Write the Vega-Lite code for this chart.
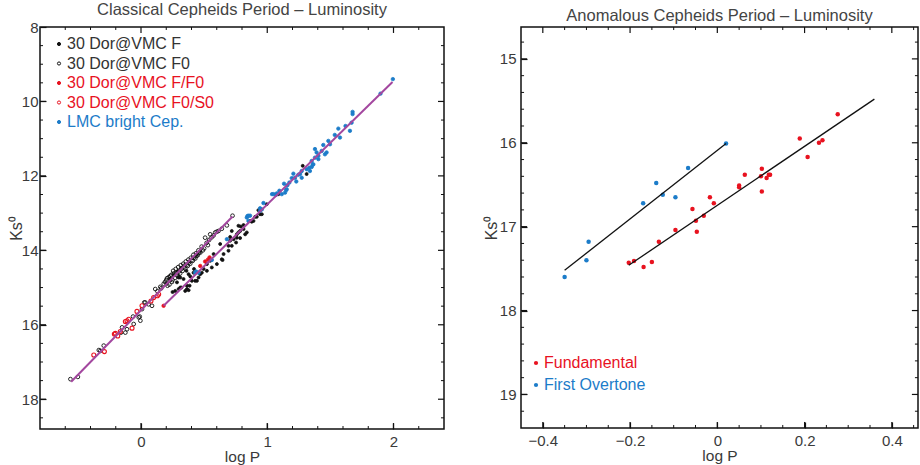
{
  "$schema": "https://vega.github.io/schema/vega-lite/v6.json",
  "background": "white",
  "padding": {"left": 7, "top": 0, "right": 0, "bottom": 0},
  "autosize": {"type": "pad"},
  "spacing": 36,
  "config": {
    "font": "Liberation Sans",
    "view": {"stroke": "#111111", "strokeWidth": 1.5, "fill": null},
    "axis": {"grid": false, "domain": false, "labelFontSize": 15, "labelColor": "#3a3a3a", "titleFontSize": 16, "titleFontWeight": "normal", "titleColor": "#3a3a3a", "format": "~g"},
    "title": {"fontSize": 16.5, "fontWeight": "normal", "color": "#444", "offset": 2}
  },
  "datasets": {
    "classical": [
      {"logP": -0.559, "Ks": 17.46, "series": "30 Dor@VMC F0"}, {"logP": -0.5, "Ks": 17.4, "series": "30 Dor@VMC F0"}, {"logP": -0.334, "Ks": 16.68, "series": "30 Dor@VMC F0"}, {"logP": -0.322, "Ks": 16.7, "series": "30 Dor@VMC F0"}, {"logP": -0.295, "Ks": 16.56, "series": "30 Dor@VMC F0"}, {"logP": -0.158, "Ks": 16.21, "series": "30 Dor@VMC F0"}, {"logP": -0.15, "Ks": 16.07, "series": "30 Dor@VMC F0"}, {"logP": -0.124, "Ks": 16.21, "series": "30 Dor@VMC F0"}, {"logP": -0.111, "Ks": 16.12, "series": "30 Dor@VMC F0"}, {"logP": -0.063, "Ks": 15.78, "series": "30 Dor@VMC F0"}, {"logP": -0.058, "Ks": 15.98, "series": "30 Dor@VMC F0"}, {"logP": -0.018, "Ks": 15.8, "series": "30 Dor@VMC F0"}, {"logP": -0.01, "Ks": 15.78, "series": "30 Dor@VMC F0"}, {"logP": -0.005, "Ks": 15.89, "series": "30 Dor@VMC F0"}, {"logP": 0.008, "Ks": 15.58, "series": "30 Dor@VMC F0"}, {"logP": 0.026, "Ks": 15.4, "series": "30 Dor@VMC F0"}, {"logP": 0.034, "Ks": 15.4, "series": "30 Dor@VMC F0"}, {"logP": 0.06, "Ks": 15.45, "series": "30 Dor@VMC F0"}, {"logP": 0.087, "Ks": 15.49, "series": "30 Dor@VMC F0"}, {"logP": 0.113, "Ks": 15.04, "series": "30 Dor@VMC F0"}, {"logP": 0.13, "Ks": 15.1, "series": "30 Dor@VMC F0"}, {"logP": 0.153, "Ks": 14.98, "series": "30 Dor@VMC F0"}, {"logP": 0.16, "Ks": 15.02, "series": "30 Dor@VMC F0"}, {"logP": 0.18, "Ks": 14.9, "series": "30 Dor@VMC F0"}, {"logP": 0.19, "Ks": 14.85, "series": "30 Dor@VMC F0"}, {"logP": 0.2, "Ks": 14.8, "series": "30 Dor@VMC F0"}, {"logP": 0.206, "Ks": 14.75, "series": "30 Dor@VMC F0"}, {"logP": 0.21, "Ks": 14.95, "series": "30 Dor@VMC F0"}, {"logP": 0.22, "Ks": 14.72, "series": "30 Dor@VMC F0"}, {"logP": 0.225, "Ks": 14.92, "series": "30 Dor@VMC F0"}, {"logP": 0.232, "Ks": 14.69, "series": "30 Dor@VMC F0"}, {"logP": 0.24, "Ks": 14.66, "series": "30 Dor@VMC F0"}, {"logP": 0.245, "Ks": 14.85, "series": "30 Dor@VMC F0"}, {"logP": 0.25, "Ks": 14.8, "series": "30 Dor@VMC F0"}, {"logP": 0.255, "Ks": 14.55, "series": "30 Dor@VMC F0"}, {"logP": 0.26, "Ks": 14.62, "series": "30 Dor@VMC F0"}, {"logP": 0.27, "Ks": 14.74, "series": "30 Dor@VMC F0"}, {"logP": 0.275, "Ks": 14.5, "series": "30 Dor@VMC F0"}, {"logP": 0.28, "Ks": 14.6, "series": "30 Dor@VMC F0"}, {"logP": 0.29, "Ks": 14.69, "series": "30 Dor@VMC F0"}, {"logP": 0.295, "Ks": 14.45, "series": "30 Dor@VMC F0"}, {"logP": 0.3, "Ks": 14.57, "series": "30 Dor@VMC F0"}, {"logP": 0.31, "Ks": 14.62, "series": "30 Dor@VMC F0"}, {"logP": 0.315, "Ks": 14.4, "series": "30 Dor@VMC F0"}, {"logP": 0.32, "Ks": 14.5, "series": "30 Dor@VMC F0"}, {"logP": 0.33, "Ks": 14.55, "series": "30 Dor@VMC F0"}, {"logP": 0.335, "Ks": 14.36, "series": "30 Dor@VMC F0"}, {"logP": 0.34, "Ks": 14.45, "series": "30 Dor@VMC F0"}, {"logP": 0.35, "Ks": 14.49, "series": "30 Dor@VMC F0"}, {"logP": 0.355, "Ks": 14.3, "series": "30 Dor@VMC F0"}, {"logP": 0.36, "Ks": 14.4, "series": "30 Dor@VMC F0"}, {"logP": 0.37, "Ks": 14.42, "series": "30 Dor@VMC F0"}, {"logP": 0.375, "Ks": 14.25, "series": "30 Dor@VMC F0"}, {"logP": 0.38, "Ks": 14.33, "series": "30 Dor@VMC F0"}, {"logP": 0.39, "Ks": 14.36, "series": "30 Dor@VMC F0"}, {"logP": 0.395, "Ks": 14.2, "series": "30 Dor@VMC F0"}, {"logP": 0.4, "Ks": 14.27, "series": "30 Dor@VMC F0"}, {"logP": 0.41, "Ks": 14.28, "series": "30 Dor@VMC F0"}, {"logP": 0.415, "Ks": 14.12, "series": "30 Dor@VMC F0"}, {"logP": 0.42, "Ks": 14.2, "series": "30 Dor@VMC F0"}, {"logP": 0.43, "Ks": 14.22, "series": "30 Dor@VMC F0"}, {"logP": 0.435, "Ks": 14.08, "series": "30 Dor@VMC F0"}, {"logP": 0.44, "Ks": 14.15, "series": "30 Dor@VMC F0"}, {"logP": 0.45, "Ks": 14.13, "series": "30 Dor@VMC F0"}, {"logP": 0.455, "Ks": 14.0, "series": "30 Dor@VMC F0"}, {"logP": 0.46, "Ks": 14.06, "series": "30 Dor@VMC F0"}, {"logP": 0.47, "Ks": 14.06, "series": "30 Dor@VMC F0"}, {"logP": 0.48, "Ks": 13.9, "series": "30 Dor@VMC F0"}, {"logP": 0.49, "Ks": 14.0, "series": "30 Dor@VMC F0"}, {"logP": 0.5, "Ks": 13.95, "series": "30 Dor@VMC F0"}, {"logP": 0.508, "Ks": 13.66, "series": "30 Dor@VMC F0"}, {"logP": 0.52, "Ks": 13.8, "series": "30 Dor@VMC F0"}, {"logP": 0.53, "Ks": 13.86, "series": "30 Dor@VMC F0"}, {"logP": 0.54, "Ks": 13.72, "series": "30 Dor@VMC F0"}, {"logP": 0.548, "Ks": 13.57, "series": "30 Dor@VMC F0"}, {"logP": 0.56, "Ks": 13.65, "series": "30 Dor@VMC F0"}, {"logP": 0.575, "Ks": 13.6, "series": "30 Dor@VMC F0"}, {"logP": 0.588, "Ks": 13.52, "series": "30 Dor@VMC F0"}, {"logP": 0.6, "Ks": 13.5, "series": "30 Dor@VMC F0"}, {"logP": 0.614, "Ks": 13.48, "series": "30 Dor@VMC F0"}, {"logP": 0.64, "Ks": 13.42, "series": "30 Dor@VMC F0"}, {"logP": 0.68, "Ks": 13.33, "series": "30 Dor@VMC F0"}, {"logP": 0.725, "Ks": 13.07, "series": "30 Dor@VMC F0"},
      {"logP": 0.232, "Ks": 14.8, "series": "30 Dor@VMC F"}, {"logP": 0.25, "Ks": 15.12, "series": "30 Dor@VMC F"}, {"logP": 0.271, "Ks": 15.09, "series": "30 Dor@VMC F"}, {"logP": 0.285, "Ks": 14.86, "series": "30 Dor@VMC F"}, {"logP": 0.298, "Ks": 14.73, "series": "30 Dor@VMC F"}, {"logP": 0.298, "Ks": 15.04, "series": "30 Dor@VMC F"}, {"logP": 0.311, "Ks": 15.0, "series": "30 Dor@VMC F"}, {"logP": 0.311, "Ks": 14.73, "series": "30 Dor@VMC F"}, {"logP": 0.32, "Ks": 15.0, "series": "30 Dor@VMC F"}, {"logP": 0.337, "Ks": 14.77, "series": "30 Dor@VMC F"}, {"logP": 0.35, "Ks": 15.09, "series": "30 Dor@VMC F"}, {"logP": 0.364, "Ks": 15.04, "series": "30 Dor@VMC F"}, {"logP": 0.364, "Ks": 14.95, "series": "30 Dor@VMC F"}, {"logP": 0.377, "Ks": 15.07, "series": "30 Dor@VMC F"}, {"logP": 0.377, "Ks": 14.64, "series": "30 Dor@VMC F"}, {"logP": 0.385, "Ks": 14.95, "series": "30 Dor@VMC F"}, {"logP": 0.39, "Ks": 14.7, "series": "30 Dor@VMC F"}, {"logP": 0.403, "Ks": 14.82, "series": "30 Dor@VMC F"}, {"logP": 0.416, "Ks": 14.6, "series": "30 Dor@VMC F"}, {"logP": 0.42, "Ks": 14.5, "series": "30 Dor@VMC F"}, {"logP": 0.429, "Ks": 14.82, "series": "30 Dor@VMC F"}, {"logP": 0.443, "Ks": 14.82, "series": "30 Dor@VMC F"}, {"logP": 0.456, "Ks": 14.73, "series": "30 Dor@VMC F"}, {"logP": 0.469, "Ks": 14.64, "series": "30 Dor@VMC F"}, {"logP": 0.482, "Ks": 14.6, "series": "30 Dor@VMC F"}, {"logP": 0.496, "Ks": 14.5, "series": "30 Dor@VMC F"}, {"logP": 0.522, "Ks": 14.55, "series": "30 Dor@VMC F"}, {"logP": 0.522, "Ks": 14.37, "series": "30 Dor@VMC F"}, {"logP": 0.548, "Ks": 14.28, "series": "30 Dor@VMC F"}, {"logP": 0.561, "Ks": 14.46, "series": "30 Dor@VMC F"}, {"logP": 0.575, "Ks": 14.1, "series": "30 Dor@VMC F"}, {"logP": 0.601, "Ks": 14.37, "series": "30 Dor@VMC F"}, {"logP": 0.627, "Ks": 13.83, "series": "30 Dor@VMC F"}, {"logP": 0.64, "Ks": 14.24, "series": "30 Dor@VMC F"}, {"logP": 0.646, "Ks": 14.26, "series": "30 Dor@VMC F"}, {"logP": 0.654, "Ks": 14.1, "series": "30 Dor@VMC F"}, {"logP": 0.693, "Ks": 14.01, "series": "30 Dor@VMC F"}, {"logP": 0.693, "Ks": 13.88, "series": "30 Dor@VMC F"}, {"logP": 0.706, "Ks": 13.64, "series": "30 Dor@VMC F"}, {"logP": 0.706, "Ks": 13.74, "series": "30 Dor@VMC F"}, {"logP": 0.719, "Ks": 13.88, "series": "30 Dor@VMC F"}, {"logP": 0.719, "Ks": 13.48, "series": "30 Dor@VMC F"}, {"logP": 0.733, "Ks": 13.7, "series": "30 Dor@VMC F"}, {"logP": 0.753, "Ks": 13.79, "series": "30 Dor@VMC F"}, {"logP": 0.759, "Ks": 13.57, "series": "30 Dor@VMC F"}, {"logP": 0.759, "Ks": 13.66, "series": "30 Dor@VMC F"}, {"logP": 0.772, "Ks": 13.52, "series": "30 Dor@VMC F"}, {"logP": 0.772, "Ks": 13.34, "series": "30 Dor@VMC F"}, {"logP": 0.785, "Ks": 13.67, "series": "30 Dor@VMC F"}, {"logP": 0.785, "Ks": 13.48, "series": "30 Dor@VMC F"}, {"logP": 0.79, "Ks": 13.36, "series": "30 Dor@VMC F"}, {"logP": 0.812, "Ks": 13.43, "series": "30 Dor@VMC F"}, {"logP": 0.812, "Ks": 13.32, "series": "30 Dor@VMC F"}, {"logP": 0.825, "Ks": 13.57, "series": "30 Dor@VMC F"}, {"logP": 0.838, "Ks": 13.52, "series": "30 Dor@VMC F"}, {"logP": 0.864, "Ks": 13.21, "series": "30 Dor@VMC F"}, {"logP": 0.877, "Ks": 13.23, "series": "30 Dor@VMC F"}, {"logP": 0.891, "Ks": 13.21, "series": "30 Dor@VMC F"}, {"logP": 0.904, "Ks": 13.1, "series": "30 Dor@VMC F"}, {"logP": 0.917, "Ks": 13.1, "series": "30 Dor@VMC F"}, {"logP": 0.93, "Ks": 12.92, "series": "30 Dor@VMC F"}, {"logP": 0.943, "Ks": 13.03, "series": "30 Dor@VMC F"}, {"logP": 0.957, "Ks": 13.03, "series": "30 Dor@VMC F"}, {"logP": 0.996, "Ks": 12.76, "series": "30 Dor@VMC F"}, {"logP": 1.088, "Ks": 12.49, "series": "30 Dor@VMC F"}, {"logP": 1.281, "Ks": 11.73, "series": "30 Dor@VMC F"}, {"logP": 1.312, "Ks": 11.95, "series": "30 Dor@VMC F"}, {"logP": 0.26, "Ks": 14.66, "series": "30 Dor@VMC F"}, {"logP": 0.29, "Ks": 14.56, "series": "30 Dor@VMC F"}, {"logP": 0.32, "Ks": 14.47, "series": "30 Dor@VMC F"}, {"logP": 0.35, "Ks": 14.38, "series": "30 Dor@VMC F"}, {"logP": 0.38, "Ks": 14.3, "series": "30 Dor@VMC F"}, {"logP": 0.41, "Ks": 14.2, "series": "30 Dor@VMC F"}, {"logP": 0.44, "Ks": 14.12, "series": "30 Dor@VMC F"}, {"logP": 0.23, "Ks": 14.76, "series": "30 Dor@VMC F"}, {"logP": 0.47, "Ks": 14.02, "series": "30 Dor@VMC F"}, {"logP": 0.2, "Ks": 14.9, "series": "30 Dor@VMC F"}, {"logP": 0.36, "Ks": 14.55, "series": "30 Dor@VMC F"}, {"logP": 0.3, "Ks": 14.7, "series": "30 Dor@VMC F"},
      {"logP": -0.374, "Ks": 16.81, "series": "30 Dor@VMC F0/S0"}, {"logP": -0.29, "Ks": 16.72, "series": "30 Dor@VMC F0/S0"}, {"logP": -0.211, "Ks": 16.25, "series": "30 Dor@VMC F0/S0"}, {"logP": -0.203, "Ks": 16.23, "series": "30 Dor@VMC F0/S0"}, {"logP": -0.184, "Ks": 16.3, "series": "30 Dor@VMC F0/S0"}, {"logP": -0.164, "Ks": 16.18, "series": "30 Dor@VMC F0/S0"}, {"logP": -0.124, "Ks": 15.91, "series": "30 Dor@VMC F0/S0"}, {"logP": -0.111, "Ks": 15.89, "series": "30 Dor@VMC F0/S0"}, {"logP": -0.097, "Ks": 15.85, "series": "30 Dor@VMC F0/S0"}, {"logP": -0.071, "Ks": 16.09, "series": "30 Dor@VMC F0/S0"}, {"logP": -0.032, "Ks": 15.64, "series": "30 Dor@VMC F0/S0"}, {"logP": 0.008, "Ks": 15.49, "series": "30 Dor@VMC F0/S0"}, {"logP": 0.079, "Ks": 15.36, "series": "30 Dor@VMC F0/S0"}, {"logP": 0.1, "Ks": 15.27, "series": "30 Dor@VMC F0/S0"}, {"logP": 0.13, "Ks": 15.22, "series": "30 Dor@VMC F0/S0"}, {"logP": 0.14, "Ks": 15.18, "series": "30 Dor@VMC F0/S0"},
      {"logP": 0.179, "Ks": 15.49, "series": "30 Dor@VMC F/F0"}, {"logP": 0.469, "Ks": 14.42, "series": "30 Dor@VMC F/F0"}, {"logP": 0.508, "Ks": 14.3, "series": "30 Dor@VMC F/F0"}, {"logP": 0.53, "Ks": 14.25, "series": "30 Dor@VMC F/F0"}, {"logP": 0.543, "Ks": 14.19, "series": "30 Dor@VMC F/F0"},
      {"logP": 0.429, "Ks": 14.6, "series": "LMC bright Cep."}, {"logP": 0.437, "Ks": 14.57, "series": "LMC bright Cep."}, {"logP": 0.456, "Ks": 14.6, "series": "LMC bright Cep."}, {"logP": 0.561, "Ks": 14.26, "series": "LMC bright Cep."}, {"logP": 0.68, "Ks": 13.7, "series": "LMC bright Cep."}, {"logP": 0.838, "Ks": 13.12, "series": "LMC bright Cep."}, {"logP": 0.843, "Ks": 13.08, "series": "LMC bright Cep."}, {"logP": 0.851, "Ks": 13.07, "series": "LMC bright Cep."}, {"logP": 0.851, "Ks": 13.21, "series": "LMC bright Cep."}, {"logP": 0.864, "Ks": 13.07, "series": "LMC bright Cep."}, {"logP": 0.943, "Ks": 12.87, "series": "LMC bright Cep."}, {"logP": 0.943, "Ks": 12.94, "series": "LMC bright Cep."}, {"logP": 0.957, "Ks": 12.9, "series": "LMC bright Cep."}, {"logP": 0.97, "Ks": 12.73, "series": "LMC bright Cep."}, {"logP": 1.038, "Ks": 12.49, "series": "LMC bright Cep."}, {"logP": 1.05, "Ks": 12.49, "series": "LMC bright Cep."}, {"logP": 1.07, "Ks": 12.51, "series": "LMC bright Cep."}, {"logP": 1.075, "Ks": 12.47, "series": "LMC bright Cep."}, {"logP": 1.096, "Ks": 12.4, "series": "LMC bright Cep."}, {"logP": 1.115, "Ks": 12.49, "series": "LMC bright Cep."}, {"logP": 1.133, "Ks": 12.21, "series": "LMC bright Cep."}, {"logP": 1.141, "Ks": 12.45, "series": "LMC bright Cep."}, {"logP": 1.15, "Ks": 12.38, "series": "LMC bright Cep."}, {"logP": 1.154, "Ks": 12.36, "series": "LMC bright Cep."}, {"logP": 1.16, "Ks": 12.25, "series": "LMC bright Cep."}, {"logP": 1.175, "Ks": 12.18, "series": "LMC bright Cep."}, {"logP": 1.194, "Ks": 12.06, "series": "LMC bright Cep."}, {"logP": 1.207, "Ks": 11.94, "series": "LMC bright Cep."}, {"logP": 1.22, "Ks": 12.05, "series": "LMC bright Cep."}, {"logP": 1.23, "Ks": 12.15, "series": "LMC bright Cep."}, {"logP": 1.246, "Ks": 11.97, "series": "LMC bright Cep."}, {"logP": 1.26, "Ks": 11.95, "series": "LMC bright Cep."}, {"logP": 1.273, "Ks": 11.87, "series": "LMC bright Cep."}, {"logP": 1.273, "Ks": 12.05, "series": "LMC bright Cep."}, {"logP": 1.312, "Ks": 11.82, "series": "LMC bright Cep."}, {"logP": 1.333, "Ks": 11.78, "series": "LMC bright Cep."}, {"logP": 1.338, "Ks": 11.87, "series": "LMC bright Cep."}, {"logP": 1.352, "Ks": 11.6, "series": "LMC bright Cep."}, {"logP": 1.352, "Ks": 11.76, "series": "LMC bright Cep."}, {"logP": 1.36, "Ks": 11.7, "series": "LMC bright Cep."}, {"logP": 1.365, "Ks": 11.69, "series": "LMC bright Cep."}, {"logP": 1.378, "Ks": 11.28, "series": "LMC bright Cep."}, {"logP": 1.378, "Ks": 11.51, "series": "LMC bright Cep."}, {"logP": 1.391, "Ks": 11.37, "series": "LMC bright Cep."}, {"logP": 1.405, "Ks": 11.46, "series": "LMC bright Cep."}, {"logP": 1.405, "Ks": 11.55, "series": "LMC bright Cep."}, {"logP": 1.431, "Ks": 11.33, "series": "LMC bright Cep."}, {"logP": 1.444, "Ks": 11.17, "series": "LMC bright Cep."}, {"logP": 1.457, "Ks": 11.42, "series": "LMC bright Cep."}, {"logP": 1.47, "Ks": 11.37, "series": "LMC bright Cep."}, {"logP": 1.484, "Ks": 11.06, "series": "LMC bright Cep."}, {"logP": 1.497, "Ks": 11.15, "series": "LMC bright Cep."}, {"logP": 1.535, "Ks": 10.9, "series": "LMC bright Cep."}, {"logP": 1.576, "Ks": 10.97, "series": "LMC bright Cep."}, {"logP": 1.563, "Ks": 10.73, "series": "LMC bright Cep."}, {"logP": 1.62, "Ks": 10.66, "series": "LMC bright Cep."}, {"logP": 1.655, "Ks": 10.79, "series": "LMC bright Cep."}, {"logP": 1.668, "Ks": 10.57, "series": "LMC bright Cep."}, {"logP": 1.676, "Ks": 10.28, "series": "LMC bright Cep."}, {"logP": 1.676, "Ks": 10.34, "series": "LMC bright Cep."}, {"logP": 1.897, "Ks": 9.79, "series": "LMC bright Cep."}, {"logP": 1.995, "Ks": 9.4, "series": "LMC bright Cep."}
    ],
    "classicalFits": [
      {"logP": -0.553, "Ks": 17.53, "fit": "F0"}, {"logP": 0.725, "Ks": 13.09, "fit": "F0"},
      {"logP": 0.179, "Ks": 15.49, "fit": "F"}, {"logP": 1.992, "Ks": 9.48, "fit": "F"}
    ],
    "anomalous": [
      {"logP": 0.276, "Ks": 15.66, "mode": "Fundamental"}, {"logP": 0.189, "Ks": 15.95, "mode": "Fundamental"}, {"logP": 0.233, "Ks": 16.0, "mode": "Fundamental"}, {"logP": 0.241, "Ks": 15.97, "mode": "Fundamental"}, {"logP": 0.207, "Ks": 16.17, "mode": "Fundamental"}, {"logP": 0.102, "Ks": 16.31, "mode": "Fundamental"}, {"logP": 0.063, "Ks": 16.38, "mode": "Fundamental"}, {"logP": 0.1, "Ks": 16.4, "mode": "Fundamental"}, {"logP": 0.118, "Ks": 16.38, "mode": "Fundamental"}, {"logP": 0.121, "Ks": 16.38, "mode": "Fundamental"}, {"logP": 0.113, "Ks": 16.42, "mode": "Fundamental"}, {"logP": 0.05, "Ks": 16.51, "mode": "Fundamental"}, {"logP": 0.05, "Ks": 16.53, "mode": "Fundamental"}, {"logP": 0.102, "Ks": 16.58, "mode": "Fundamental"}, {"logP": -0.017, "Ks": 16.65, "mode": "Fundamental"}, {"logP": -0.008, "Ks": 16.72, "mode": "Fundamental"}, {"logP": -0.057, "Ks": 16.79, "mode": "Fundamental"}, {"logP": -0.049, "Ks": 16.93, "mode": "Fundamental"}, {"logP": -0.031, "Ks": 16.87, "mode": "Fundamental"}, {"logP": -0.096, "Ks": 17.04, "mode": "Fundamental"}, {"logP": -0.047, "Ks": 17.06, "mode": "Fundamental"}, {"logP": -0.134, "Ks": 17.18, "mode": "Fundamental"}, {"logP": -0.203, "Ks": 17.43, "mode": "Fundamental"}, {"logP": -0.191, "Ks": 17.41, "mode": "Fundamental"}, {"logP": -0.169, "Ks": 17.48, "mode": "Fundamental"}, {"logP": -0.15, "Ks": 17.42, "mode": "Fundamental"},
      {"logP": 0.02, "Ks": 16.01, "mode": "First Overtone"}, {"logP": -0.067, "Ks": 16.3, "mode": "First Overtone"}, {"logP": -0.14, "Ks": 16.48, "mode": "First Overtone"}, {"logP": -0.125, "Ks": 16.62, "mode": "First Overtone"}, {"logP": -0.096, "Ks": 16.65, "mode": "First Overtone"}, {"logP": -0.17, "Ks": 16.72, "mode": "First Overtone"}, {"logP": -0.295, "Ks": 17.18, "mode": "First Overtone"}, {"logP": -0.3, "Ks": 17.4, "mode": "First Overtone"}, {"logP": -0.35, "Ks": 17.6, "mode": "First Overtone"}
    ],
    "anomalousFits": [
      {"logP": -0.203, "Ks": 17.46, "mode": "Fundamental"}, {"logP": 0.36, "Ks": 15.48, "mode": "Fundamental"},
      {"logP": -0.35, "Ks": 17.52, "mode": "First Overtone"}, {"logP": 0.02, "Ks": 16.01, "mode": "First Overtone"}
    ],
    "leftTicksX": [
      {"v": 0, "kind": "major"}, {"v": 1, "kind": "major"}, {"v": 2, "kind": "major"},
      {"v": -0.6, "kind": "minor"}, {"v": -0.4, "kind": "minor"}, {"v": -0.2, "kind": "minor"}, {"v": 0.2, "kind": "minor"}, {"v": 0.4, "kind": "minor"}, {"v": 0.6, "kind": "minor"}, {"v": 0.8, "kind": "minor"}, {"v": 1.2, "kind": "minor"}, {"v": 1.4, "kind": "minor"}, {"v": 1.6, "kind": "minor"}, {"v": 1.8, "kind": "minor"}, {"v": 2.2, "kind": "minor"}
    ],
    "leftTicksY": [
      {"v": 10, "kind": "major"}, {"v": 12, "kind": "major"}, {"v": 14, "kind": "major"}, {"v": 16, "kind": "major"}, {"v": 18, "kind": "major"},
      {"v": 8.5, "kind": "minor"}, {"v": 9, "kind": "minor"}, {"v": 9.5, "kind": "minor"}, {"v": 10.5, "kind": "minor"}, {"v": 11, "kind": "minor"}, {"v": 11.5, "kind": "minor"}, {"v": 12.5, "kind": "minor"}, {"v": 13, "kind": "minor"}, {"v": 13.5, "kind": "minor"}, {"v": 14.5, "kind": "minor"}, {"v": 15, "kind": "minor"}, {"v": 15.5, "kind": "minor"}, {"v": 16.5, "kind": "minor"}, {"v": 17, "kind": "minor"}, {"v": 17.5, "kind": "minor"}, {"v": 18.5, "kind": "minor"}
    ],
    "rightTicksX": [
      {"v": -0.4, "kind": "major"}, {"v": -0.2, "kind": "major"}, {"v": 0, "kind": "major"}, {"v": 0.2, "kind": "major"}, {"v": 0.4, "kind": "major"},
      {"v": -0.35, "kind": "minor"}, {"v": -0.3, "kind": "minor"}, {"v": -0.25, "kind": "minor"}, {"v": -0.15, "kind": "minor"}, {"v": -0.1, "kind": "minor"}, {"v": -0.05, "kind": "minor"}, {"v": 0.05, "kind": "minor"}, {"v": 0.1, "kind": "minor"}, {"v": 0.15, "kind": "minor"}, {"v": 0.25, "kind": "minor"}, {"v": 0.3, "kind": "minor"}, {"v": 0.35, "kind": "minor"}, {"v": 0.45, "kind": "minor"}
    ],
    "rightTicksY": [
      {"v": 15, "kind": "major"}, {"v": 16, "kind": "major"}, {"v": 17, "kind": "major"}, {"v": 18, "kind": "major"}, {"v": 19, "kind": "major"},
      {"v": 14.8, "kind": "minor"}, {"v": 15.2, "kind": "minor"}, {"v": 15.4, "kind": "minor"}, {"v": 15.6, "kind": "minor"}, {"v": 15.8, "kind": "minor"}, {"v": 16.2, "kind": "minor"}, {"v": 16.4, "kind": "minor"}, {"v": 16.6, "kind": "minor"}, {"v": 16.8, "kind": "minor"}, {"v": 17.2, "kind": "minor"}, {"v": 17.4, "kind": "minor"}, {"v": 17.6, "kind": "minor"}, {"v": 17.8, "kind": "minor"}, {"v": 18.2, "kind": "minor"}, {"v": 18.4, "kind": "minor"}, {"v": 18.6, "kind": "minor"}, {"v": 18.8, "kind": "minor"}, {"v": 19.2, "kind": "minor"}
    ]
  },
  "hconcat": [
    {
      "width": 404,
      "height": 402,
      "title": "Classical Cepheids Period – Luminosity",
      "resolve": {"axis": {"x": "independent", "y": "independent"}},
      "layer": [
        {
          "data": {"name": "classical"},
          "transform": [{"filter": "datum.series == '30 Dor@VMC F0'"}],
          "mark": {"type": "point", "shape": "circle", "size": 14, "strokeWidth": 0.9, "opacity": 1},
          "encoding": {
            "x": {"field": "logP", "type": "quantitative", "scale": {"domain": [-0.8, 2.4], "nice": false, "zero": false}, "axis": null},
            "y": {"field": "Ks", "type": "quantitative", "scale": {"domain": [8, 18.8], "reverse": true, "nice": false, "zero": false}, "axis": null},
            "fill": {"field": "series", "type": "nominal", "scale": {"domain": ["30 Dor@VMC F", "30 Dor@VMC F0", "30 Dor@VMC F/F0", "30 Dor@VMC F0/S0", "LMC bright Cep."], "range": ["#111111", "transparent", "#e8121f", "transparent", "#1c7cc9"]}, "legend": {"title": null, "orient": "none", "legendX": 11, "legendY": 9, "padding": 0, "symbolSize": 10, "symbolStrokeWidth": 1, "labelFontSize": 16, "labelOffset": 0, "rowPadding": 3.5, "labelColor": {"expr": "(datum.label == '30 Dor@VMC F/F0' || datum.label == '30 Dor@VMC F0/S0') ? '#e8121f' : (datum.label == 'LMC bright Cep.' ? '#1c7cc9' : '#333333')"}}},
            "stroke": {"field": "series", "type": "nominal", "scale": {"domain": ["30 Dor@VMC F", "30 Dor@VMC F0", "30 Dor@VMC F/F0", "30 Dor@VMC F0/S0", "LMC bright Cep."], "range": ["#111111", "#111111", "#e8121f", "#e8121f", "#1c7cc9"]}, "legend": {"title": null, "orient": "none", "legendX": 11, "legendY": 9, "padding": 0, "symbolSize": 10, "symbolStrokeWidth": 1, "labelFontSize": 16, "labelOffset": 0, "rowPadding": 3.5, "labelColor": {"expr": "(datum.label == '30 Dor@VMC F/F0' || datum.label == '30 Dor@VMC F0/S0') ? '#e8121f' : (datum.label == 'LMC bright Cep.' ? '#1c7cc9' : '#333333')"}}}
          }
        },
        {
          "data": {"name": "classical"},
          "transform": [{"filter": "datum.series == '30 Dor@VMC F'"}],
          "mark": {"type": "point", "shape": "circle", "size": 9, "strokeWidth": 0.8, "opacity": 1},
          "encoding": {
            "x": {"field": "logP", "type": "quantitative", "scale": {"domain": [-0.8, 2.4], "nice": false, "zero": false}, "axis": null},
            "y": {"field": "Ks", "type": "quantitative", "scale": {"domain": [8, 18.8], "reverse": true, "nice": false, "zero": false}, "axis": null},
            "fill": {"field": "series", "type": "nominal"},
            "stroke": {"field": "series", "type": "nominal"}
          }
        },
        {
          "data": {"name": "classical"},
          "transform": [{"filter": "datum.series == '30 Dor@VMC F0/S0'"}],
          "mark": {"type": "point", "shape": "circle", "size": 16, "strokeWidth": 1.1, "opacity": 1},
          "encoding": {
            "x": {"field": "logP", "type": "quantitative", "scale": {"domain": [-0.8, 2.4], "nice": false, "zero": false}, "axis": null},
            "y": {"field": "Ks", "type": "quantitative", "scale": {"domain": [8, 18.8], "reverse": true, "nice": false, "zero": false}, "axis": null},
            "fill": {"field": "series", "type": "nominal"},
            "stroke": {"field": "series", "type": "nominal"}
          }
        },
        {
          "data": {"name": "classical"},
          "transform": [{"filter": "datum.series == '30 Dor@VMC F/F0'"}],
          "mark": {"type": "point", "shape": "circle", "size": 12, "strokeWidth": 0.8, "opacity": 1},
          "encoding": {
            "x": {"field": "logP", "type": "quantitative", "scale": {"domain": [-0.8, 2.4], "nice": false, "zero": false}, "axis": null},
            "y": {"field": "Ks", "type": "quantitative", "scale": {"domain": [8, 18.8], "reverse": true, "nice": false, "zero": false}, "axis": null},
            "fill": {"field": "series", "type": "nominal"},
            "stroke": {"field": "series", "type": "nominal"}
          }
        },
        {
          "data": {"name": "classical"},
          "transform": [{"filter": "datum.series == 'LMC bright Cep.'"}],
          "mark": {"type": "point", "shape": "circle", "size": 12, "strokeWidth": 0.8, "opacity": 1},
          "encoding": {
            "x": {"field": "logP", "type": "quantitative", "scale": {"domain": [-0.8, 2.4], "nice": false, "zero": false}, "axis": null},
            "y": {"field": "Ks", "type": "quantitative", "scale": {"domain": [8, 18.8], "reverse": true, "nice": false, "zero": false}, "axis": null},
            "fill": {"field": "series", "type": "nominal"},
            "stroke": {"field": "series", "type": "nominal"}
          }
        },
        {
          "data": {"name": "classicalFits"},
          "mark": {"type": "line", "color": "#a3479f", "strokeWidth": 2},
          "encoding": {
            "x": {"field": "logP", "type": "quantitative", "scale": {"domain": [-0.8, 2.4], "nice": false, "zero": false}, "axis": {"orient": "bottom", "values": [0, 1, 2], "offset": -6, "tickSize": 6, "tickWidth": 1.2, "tickColor": "#111111", "labelPadding": 5, "title": "log P", "titlePadding": 0, "titleFontSize": 15.5}},
            "y": {"field": "Ks", "type": "quantitative", "scale": {"domain": [8, 18.8], "reverse": true, "nice": false, "zero": false}, "axis": {"orient": "left", "values": [8, 10, 12, 14, 16, 18], "offset": -6, "tickSize": 6, "tickWidth": 1.2, "tickColor": "#111111", "labelPadding": 2, "title": "Ks⁰", "titlePadding": -3}},
            "detail": {"field": "fit", "type": "nominal"}
          }
        },
        {
          "data": {"name": "leftTicksX"},
          "transform": [{"filter": "datum.kind == 'major'"}],
          "mark": {"type": "rule", "color": "#111111", "strokeWidth": 1.2},
          "encoding": {
            "x": {"field": "v", "type": "quantitative", "scale": {"domain": [-0.8, 2.4], "nice": false, "zero": false}, "axis": null},
            "y": {"datum": 18.8, "type": "quantitative", "scale": {"domain": [8, 18.8], "reverse": true, "nice": false, "zero": false}, "axis": null},
            "y2": {"datum": 18.64}
          }
        },
        {
          "data": {"name": "leftTicksX"},
          "transform": [{"filter": "datum.kind == 'major'"}],
          "mark": {"type": "rule", "color": "#111111", "strokeWidth": 1.2},
          "encoding": {
            "x": {"field": "v", "type": "quantitative", "scale": {"domain": [-0.8, 2.4], "nice": false, "zero": false}, "axis": null},
            "y": {"datum": 8, "type": "quantitative", "scale": {"domain": [8, 18.8], "reverse": true, "nice": false, "zero": false}, "axis": null},
            "y2": {"datum": 8.16}
          }
        },
        {
          "data": {"name": "leftTicksX"},
          "transform": [{"filter": "datum.kind == 'minor'"}],
          "mark": {"type": "rule", "color": "#111111", "strokeWidth": 1},
          "encoding": {
            "x": {"field": "v", "type": "quantitative", "scale": {"domain": [-0.8, 2.4], "nice": false, "zero": false}, "axis": null},
            "y": {"datum": 18.8, "type": "quantitative", "scale": {"domain": [8, 18.8], "reverse": true, "nice": false, "zero": false}, "axis": null},
            "y2": {"datum": 18.72}
          }
        },
        {
          "data": {"name": "leftTicksX"},
          "transform": [{"filter": "datum.kind == 'minor'"}],
          "mark": {"type": "rule", "color": "#111111", "strokeWidth": 1},
          "encoding": {
            "x": {"field": "v", "type": "quantitative", "scale": {"domain": [-0.8, 2.4], "nice": false, "zero": false}, "axis": null},
            "y": {"datum": 8, "type": "quantitative", "scale": {"domain": [8, 18.8], "reverse": true, "nice": false, "zero": false}, "axis": null},
            "y2": {"datum": 8.08}
          }
        },
        {
          "data": {"name": "leftTicksY"},
          "transform": [{"filter": "datum.kind == 'major'"}],
          "mark": {"type": "rule", "color": "#111111", "strokeWidth": 1.2},
          "encoding": {
            "y": {"field": "v", "type": "quantitative", "scale": {"domain": [8, 18.8], "reverse": true, "nice": false, "zero": false}, "axis": null},
            "x": {"datum": -0.8, "type": "quantitative", "scale": {"domain": [-0.8, 2.4], "nice": false, "zero": false}, "axis": null},
            "x2": {"datum": -0.7525}
          }
        },
        {
          "data": {"name": "leftTicksY"},
          "transform": [{"filter": "datum.kind == 'major'"}],
          "mark": {"type": "rule", "color": "#111111", "strokeWidth": 1.2},
          "encoding": {
            "y": {"field": "v", "type": "quantitative", "scale": {"domain": [8, 18.8], "reverse": true, "nice": false, "zero": false}, "axis": null},
            "x": {"datum": 2.4, "type": "quantitative", "scale": {"domain": [-0.8, 2.4], "nice": false, "zero": false}, "axis": null},
            "x2": {"datum": 2.3525}
          }
        },
        {
          "data": {"name": "leftTicksY"},
          "transform": [{"filter": "datum.kind == 'minor'"}],
          "mark": {"type": "rule", "color": "#111111", "strokeWidth": 1},
          "encoding": {
            "y": {"field": "v", "type": "quantitative", "scale": {"domain": [8, 18.8], "reverse": true, "nice": false, "zero": false}, "axis": null},
            "x": {"datum": -0.8, "type": "quantitative", "scale": {"domain": [-0.8, 2.4], "nice": false, "zero": false}, "axis": null},
            "x2": {"datum": -0.776}
          }
        },
        {
          "data": {"name": "leftTicksY"},
          "transform": [{"filter": "datum.kind == 'minor'"}],
          "mark": {"type": "rule", "color": "#111111", "strokeWidth": 1},
          "encoding": {
            "y": {"field": "v", "type": "quantitative", "scale": {"domain": [8, 18.8], "reverse": true, "nice": false, "zero": false}, "axis": null},
            "x": {"datum": 2.4, "type": "quantitative", "scale": {"domain": [-0.8, 2.4], "nice": false, "zero": false}, "axis": null},
            "x2": {"datum": 2.376}
          }
        }
      ]
    },
    {
      "width": 397,
      "height": 401,
      "title": "Anomalous Cepheids Period – Luminosity",
      "resolve": {"axis": {"x": "independent", "y": "independent"}},
      "layer": [
        {
          "data": {"name": "anomalous"},
          "transform": [{"filter": "datum.mode == 'Fundamental'"}],
          "mark": {"type": "circle", "size": 20, "opacity": 1},
          "encoding": {
            "x": {"field": "logP", "type": "quantitative", "scale": {"domain": [-0.45, 0.46], "nice": false, "zero": false}, "axis": null},
            "y": {"field": "Ks", "type": "quantitative", "scale": {"domain": [14.62, 19.4], "reverse": true, "nice": false, "zero": false}, "axis": null},
            "color": {"field": "mode", "type": "nominal", "scale": {"domain": ["Fundamental", "First Overtone"], "range": ["#e8121f", "#1c7cc9"]}, "legend": {"title": null, "orient": "none", "legendX": 488, "legendY": 328, "padding": 0, "symbolSize": 18, "symbolType": "circle", "labelFontSize": 16, "labelOffset": 0, "rowPadding": 6, "labelColor": {"expr": "datum.label == 'Fundamental' ? '#e8121f' : '#1c7cc9'"}}}
          }
        },
        {
          "data": {"name": "anomalous"},
          "transform": [{"filter": "datum.mode == 'First Overtone'"}],
          "mark": {"type": "circle", "size": 20, "opacity": 1},
          "encoding": {
            "x": {"field": "logP", "type": "quantitative", "scale": {"domain": [-0.45, 0.46], "nice": false, "zero": false}, "axis": null},
            "y": {"field": "Ks", "type": "quantitative", "scale": {"domain": [14.62, 19.4], "reverse": true, "nice": false, "zero": false}, "axis": null},
            "color": {"field": "mode", "type": "nominal"}
          }
        },
        {
          "data": {"name": "anomalousFits"},
          "transform": [{"filter": "datum.mode == 'Fundamental'"}],
          "mark": {"type": "line", "color": "#111111", "strokeWidth": 1.3},
          "encoding": {
            "x": {"field": "logP", "type": "quantitative", "scale": {"domain": [-0.45, 0.46], "nice": false, "zero": false}, "axis": {"orient": "bottom", "values": [-0.4, -0.2, 0, 0.2, 0.4], "offset": -6, "tickSize": 6, "tickWidth": 1.2, "tickColor": "#111111", "labelPadding": 5, "title": "log P", "titlePadding": 0, "titleFontSize": 15.5}},
            "y": {"field": "Ks", "type": "quantitative", "scale": {"domain": [14.62, 19.4], "reverse": true, "nice": false, "zero": false}, "axis": {"orient": "left", "values": [15, 16, 17, 18, 19], "offset": -6, "tickSize": 6, "tickWidth": 1.2, "tickColor": "#111111", "labelPadding": 5, "title": "Ks⁰", "titlePadding": 0}}
          }
        },
        {
          "data": {"name": "anomalousFits"},
          "transform": [{"filter": "datum.mode == 'First Overtone'"}],
          "mark": {"type": "line", "color": "#111111", "strokeWidth": 1.3},
          "encoding": {
            "x": {"field": "logP", "type": "quantitative", "scale": {"domain": [-0.45, 0.46], "nice": false, "zero": false}, "axis": null},
            "y": {"field": "Ks", "type": "quantitative", "scale": {"domain": [14.62, 19.4], "reverse": true, "nice": false, "zero": false}, "axis": null}
          }
        },
        {
          "data": {"name": "rightTicksX"},
          "transform": [{"filter": "datum.kind == 'major'"}],
          "mark": {"type": "rule", "color": "#111111", "strokeWidth": 1.2},
          "encoding": {
            "x": {"field": "v", "type": "quantitative", "scale": {"domain": [-0.45, 0.46], "nice": false, "zero": false}, "axis": null},
            "y": {"datum": 19.4, "type": "quantitative", "scale": {"domain": [14.62, 19.4], "reverse": true, "nice": false, "zero": false}, "axis": null},
            "y2": {"datum": 19.328}
          }
        },
        {
          "data": {"name": "rightTicksX"},
          "transform": [{"filter": "datum.kind == 'major'"}],
          "mark": {"type": "rule", "color": "#111111", "strokeWidth": 1.2},
          "encoding": {
            "x": {"field": "v", "type": "quantitative", "scale": {"domain": [-0.45, 0.46], "nice": false, "zero": false}, "axis": null},
            "y": {"datum": 14.62, "type": "quantitative", "scale": {"domain": [14.62, 19.4], "reverse": true, "nice": false, "zero": false}, "axis": null},
            "y2": {"datum": 14.692}
          }
        },
        {
          "data": {"name": "rightTicksX"},
          "transform": [{"filter": "datum.kind == 'minor'"}],
          "mark": {"type": "rule", "color": "#111111", "strokeWidth": 1},
          "encoding": {
            "x": {"field": "v", "type": "quantitative", "scale": {"domain": [-0.45, 0.46], "nice": false, "zero": false}, "axis": null},
            "y": {"datum": 19.4, "type": "quantitative", "scale": {"domain": [14.62, 19.4], "reverse": true, "nice": false, "zero": false}, "axis": null},
            "y2": {"datum": 19.364}
          }
        },
        {
          "data": {"name": "rightTicksX"},
          "transform": [{"filter": "datum.kind == 'minor'"}],
          "mark": {"type": "rule", "color": "#111111", "strokeWidth": 1},
          "encoding": {
            "x": {"field": "v", "type": "quantitative", "scale": {"domain": [-0.45, 0.46], "nice": false, "zero": false}, "axis": null},
            "y": {"datum": 14.62, "type": "quantitative", "scale": {"domain": [14.62, 19.4], "reverse": true, "nice": false, "zero": false}, "axis": null},
            "y2": {"datum": 14.656}
          }
        },
        {
          "data": {"name": "rightTicksY"},
          "transform": [{"filter": "datum.kind == 'major'"}],
          "mark": {"type": "rule", "color": "#111111", "strokeWidth": 1.2},
          "encoding": {
            "y": {"field": "v", "type": "quantitative", "scale": {"domain": [14.62, 19.4], "reverse": true, "nice": false, "zero": false}, "axis": null},
            "x": {"datum": -0.45, "type": "quantitative", "scale": {"domain": [-0.45, 0.46], "nice": false, "zero": false}, "axis": null},
            "x2": {"datum": -0.436}
          }
        },
        {
          "data": {"name": "rightTicksY"},
          "transform": [{"filter": "datum.kind == 'major'"}],
          "mark": {"type": "rule", "color": "#111111", "strokeWidth": 1.2},
          "encoding": {
            "y": {"field": "v", "type": "quantitative", "scale": {"domain": [14.62, 19.4], "reverse": true, "nice": false, "zero": false}, "axis": null},
            "x": {"datum": 0.46, "type": "quantitative", "scale": {"domain": [-0.45, 0.46], "nice": false, "zero": false}, "axis": null},
            "x2": {"datum": 0.446}
          }
        },
        {
          "data": {"name": "rightTicksY"},
          "transform": [{"filter": "datum.kind == 'minor'"}],
          "mark": {"type": "rule", "color": "#111111", "strokeWidth": 1},
          "encoding": {
            "y": {"field": "v", "type": "quantitative", "scale": {"domain": [14.62, 19.4], "reverse": true, "nice": false, "zero": false}, "axis": null},
            "x": {"datum": -0.45, "type": "quantitative", "scale": {"domain": [-0.45, 0.46], "nice": false, "zero": false}, "axis": null},
            "x2": {"datum": -0.443}
          }
        },
        {
          "data": {"name": "rightTicksY"},
          "transform": [{"filter": "datum.kind == 'minor'"}],
          "mark": {"type": "rule", "color": "#111111", "strokeWidth": 1},
          "encoding": {
            "y": {"field": "v", "type": "quantitative", "scale": {"domain": [14.62, 19.4], "reverse": true, "nice": false, "zero": false}, "axis": null},
            "x": {"datum": 0.46, "type": "quantitative", "scale": {"domain": [-0.45, 0.46], "nice": false, "zero": false}, "axis": null},
            "x2": {"datum": 0.453}
          }
        }
      ]
    }
  ]
}
